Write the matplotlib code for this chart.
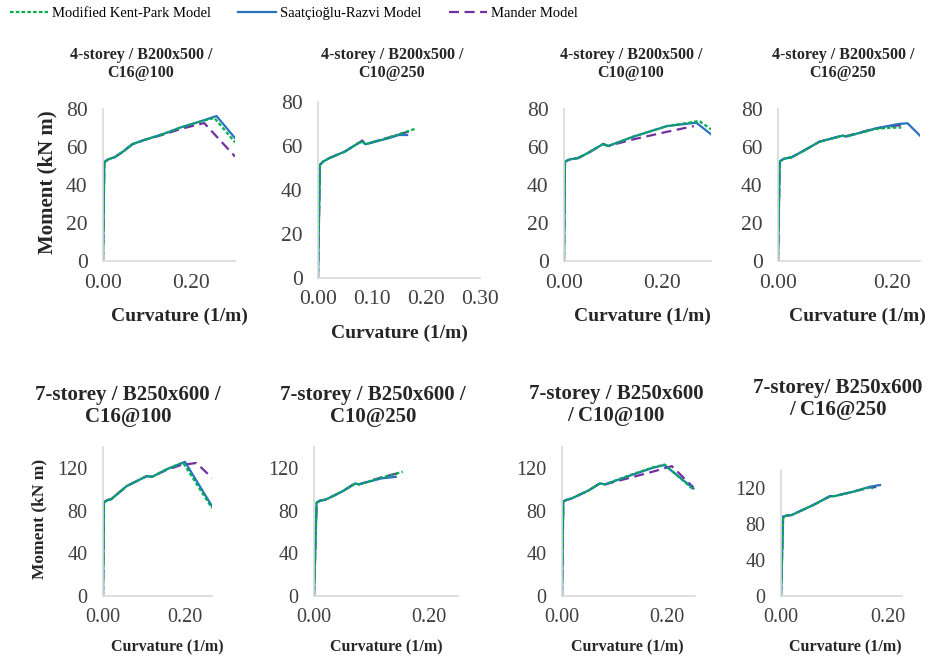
import matplotlib.pyplot as plt

plt.rcParams['font.family'] = ['Liberation Serif', 'DejaVu Serif']

# panel titles
titles = ['4-storey / B200x500 /\nC16@100', '4-storey / B200x500 /\nC10@250',
          '4-storey / B200x500 /\nC10@100', '4-storey / B200x500 /\nC16@250',
          '7-storey / B250x600 /\nC16@100', '7-storey / B250x600 /\nC10@250',
          '7-storey / B250x600\n/ C10@100', '7-storey/ B250x600\n/ C16@250']

# Modified Kent-Park model: curvature (1/m), moment (kN m)
kp_curv = [
    [0, 0.003, 0.012, 0.027, 0.045, 0.067, 0.095, 0.119, 0.141, 0.178, 0.215, 0.253, 0.3],
    [0, 0.0035, 0.01, 0.021, 0.05, 0.074, 0.082, 0.088, 0.13, 0.16, 0.182],
    [0, 0.002, 0.012, 0.029, 0.05, 0.08, 0.09, 0.141, 0.21, 0.276, 0.3],
    [0, 0.003, 0.01, 0.024, 0.045, 0.073, 0.114, 0.12, 0.172, 0.2, 0.217],
    [0, 0.0024, 0.01, 0.02, 0.058, 0.107, 0.12, 0.155, 0.195, 0.266],
    [0, 0.0045, 0.01, 0.021, 0.05, 0.072, 0.078, 0.117, 0.154],
    [0, 0.0025, 0.01, 0.018, 0.05, 0.072, 0.082, 0.136, 0.174, 0.195, 0.25],
    [0, 0.004, 0.01, 0.02, 0.06, 0.092, 0.1, 0.135, 0.16, 0.172],
]
kp_mom = [
    [0, 52, 53.5, 54.7, 57.5, 61.5, 63.8, 65.5, 67.2, 70.4, 73, 75.3, 62.5],
    [0, 51.4, 53, 54.5, 57.5, 61.2, 62, 60.8, 63.8, 66.2, 68],
    [0, 52.3, 53.5, 54.2, 57, 61.6, 60.5, 65.4, 71, 73.7, 69.3],
    [0, 52.3, 53.8, 54.6, 58, 62.8, 66, 65.5, 69.5, 70.2, 70.2],
    [0, 88, 90, 91, 103.3, 112.7, 112, 119, 125.5, 82.5],
    [0, 87.6, 89.5, 90.7, 98.5, 105.8, 104.9, 111.2, 116.8],
    [0, 89, 90.5, 91.6, 99, 105.8, 104.9, 114.8, 121, 123.5, 100],
    [0, 88.1, 89.3, 90, 101, 111, 111, 115.9, 120, 119.6],
]

# Saatcioglu-Razvi model
sr_curv = [
    [0, 0.003, 0.012, 0.027, 0.045, 0.067, 0.095, 0.119, 0.141, 0.178, 0.215, 0.258, 0.3],
    [0, 0.0035, 0.01, 0.021, 0.05, 0.074, 0.082, 0.088, 0.13, 0.15, 0.165],
    [0, 0.002, 0.012, 0.029, 0.05, 0.08, 0.09, 0.141, 0.21, 0.27, 0.3],
    [0, 0.003, 0.01, 0.024, 0.045, 0.073, 0.114, 0.12, 0.172, 0.212, 0.228, 0.25],
    [0, 0.0024, 0.01, 0.02, 0.058, 0.107, 0.12, 0.155, 0.2, 0.266],
    [0, 0.0045, 0.01, 0.021, 0.05, 0.072, 0.078, 0.117, 0.142],
    [0, 0.0025, 0.01, 0.018, 0.05, 0.072, 0.082, 0.136, 0.174, 0.195, 0.25],
    [0, 0.004, 0.01, 0.02, 0.06, 0.092, 0.1, 0.135, 0.166, 0.185],
]
sr_mom = [
    [0, 52, 53.5, 54.7, 57.5, 61.5, 63.8, 65.5, 67.2, 70.4, 73, 76.3, 64.7],
    [0, 51.4, 53, 54.5, 57.5, 61.2, 62, 60.8, 63.5, 65, 65],
    [0, 52.3, 53.5, 54.2, 57, 61.6, 60.5, 65.4, 71, 72.8, 66.7],
    [0, 52.3, 53.8, 54.6, 58, 62.8, 66, 65.5, 69.8, 72.1, 72.5, 66],
    [0, 88, 90, 91, 103.3, 112.7, 112, 119, 126, 84.4],
    [0, 87.6, 89.5, 90.7, 98.5, 105.8, 104.9, 110.5, 112],
    [0, 89, 90.5, 91.6, 99, 105.8, 104.9, 114.3, 120.6, 123.1, 101],
    [0, 88.1, 89.3, 90, 101, 111, 111, 115.9, 121.4, 123.3],
]

# Mander model
md_curv = [
    [0, 0.003, 0.012, 0.027, 0.045, 0.067, 0.095, 0.119, 0.141, 0.178, 0.23, 0.3],
    [0, 0.0035, 0.01, 0.021, 0.05, 0.074, 0.082, 0.088, 0.13, 0.16, 0.172],
    [0, 0.002, 0.012, 0.029, 0.05, 0.08, 0.09, 0.141, 0.21, 0.265],
    [0, 0.003, 0.01, 0.024, 0.045, 0.073, 0.114, 0.12, 0.172, 0.21, 0.22],
    [0, 0.0024, 0.01, 0.02, 0.058, 0.107, 0.12, 0.155, 0.19, 0.228, 0.266],
    [0, 0.0045, 0.01, 0.021, 0.05, 0.072, 0.078, 0.117, 0.151],
    [0, 0.0025, 0.01, 0.018, 0.05, 0.072, 0.082, 0.136, 0.174, 0.209, 0.25],
    [0, 0.004, 0.01, 0.02, 0.06, 0.092, 0.1, 0.135, 0.166, 0.178],
]
md_mom = [
    [0, 52, 53.5, 54.7, 57.5, 61.5, 63.8, 65.3, 66.8, 69.6, 72.6, 55],
    [0, 51.4, 53, 54.5, 57.5, 61.2, 62.5, 60.8, 63.8, 66, 66.8],
    [0, 52.3, 53.5, 54.2, 57, 61.6, 60.5, 64, 68, 71],
    [0, 52.3, 53.8, 54.6, 58, 62.8, 66, 65.7, 69.8, 71.3, 71.5],
    [0, 88, 90, 91, 103.3, 112.7, 112, 118.5, 123, 125, 111],
    [0, 87.6, 89.5, 90.7, 98.5, 106.2, 104.9, 111.5, 116],
    [0, 89, 90.5, 91.6, 99, 105.8, 104.9, 112, 117, 122, 102],
    [0, 88.1, 89.3, 90, 101, 111, 111, 116, 120.5, 121],
]

x_max = [0.3, 0.3, 0.3, 0.25, 0.266, 0.25, 0.253, 0.226]
x_ticks = [[0, 0.2], [0, 0.1, 0.2, 0.3], [0, 0.2], [0, 0.2],
           [0, 0.2], [0, 0.2], [0, 0.2], [0, 0.2]]
y_ticks_top = [0, 20, 40, 60, 80]
y_ticks_bot = [0, 40, 80, 120]

# layout in pixels: (left, right, top, bottom) of each plot area
W, H = 930, 658
boxes = [(103, 235, 109, 261), (318, 480, 102, 278), (564, 711, 109, 261), (778, 920, 109, 261),
         (103, 212, 447, 596), (314, 458, 447, 596), (562, 695, 447, 596), (781, 902, 470, 596)]
title_pos = [(141, 64), (392, 64), (631, 64), (843, 64),
             (128, 406), (373, 406), (616, 405), (838, 399)]
xlabel_pos = [(179, 316), (399, 333), (642, 316), (857, 316),
              (167, 647), (386, 647), (627, 647), (845, 647)]

green, blue, purple = '#00B050', '#2872C0', '#7030A0'
tick_col = '#404040'

fig = plt.figure(figsize=(9.3, 6.58), dpi=100)

for i in range(8):
    l, r, t, b = boxes[i]
    ax = fig.add_axes([l / W, 1 - b / H, (r - l) / W, (b - t) / H])
    top = i < 4
    ax.plot(md_curv[i], md_mom[i], color=purple, lw=1.6, dashes=(4.5, 2.5), label='Mander Model')
    ax.plot(sr_curv[i], sr_mom[i], color=blue, lw=1.6, label='Saatçioğlu-Razvi Model')
    ax.plot(kp_curv[i], kp_mom[i], color=green, lw=1.6, dashes=(1.6, 1.0), label='Modified Kent-Park Model')
    ax.set_xlim(0, x_max[i])
    ax.set_xticks(x_ticks[i])
    ax.xaxis.set_major_formatter(plt.FormatStrFormatter('%.2f'))
    if top:
        ax.set_ylim(0, 80)
        ax.set_yticks(y_ticks_top)
        fs = 15.5
    else:
        ax.set_ylim(0, 140)
        ax.set_yticks(y_ticks_bot)
        fs = 14.5
    for s in ['top', 'right']:
        ax.spines[s].set_visible(False)
    for s in ['left', 'bottom']:
        ax.spines[s].set_color('#D9D9D9')
        ax.spines[s].set_linewidth(1.2)
    ax.tick_params(length=0, labelsize=fs, colors=tick_col, pad=9)
    ax.tick_params(axis='y', pad=11)

    tx, ty = title_pos[i]
    fig.text(tx / W, 1 - ty / H, titles[i], ha='center', va='center',
             fontsize=11.5 if top else 15, fontweight='bold', color='#262626', linespacing=1.15)
    lx, ly = xlabel_pos[i]
    fig.text(lx / W, 1 - ly / H, 'Curvature (1/m)', ha='center', va='center',
             fontsize=14 if top else 11.5, fontweight='bold', color='#262626')
    if i == 0:
        handles, labels = ax.get_legend_handles_labels()

fig.text(47 / W, 1 - 182 / H, 'Moment (kN m)', rotation=90, ha='center', va='center',
         fontsize=15, fontweight='bold', color='#262626')
fig.text(39 / W, 1 - 519 / H, 'Moment (kN m)', rotation=90, ha='center', va='center',
         fontsize=12.5, fontweight='bold', color='#262626')

order = [2, 1, 0]
fig.legend([handles[k] for k in order], [labels[k] for k in order],
           loc='upper left', bbox_to_anchor=(0.0, 1.005), ncol=3, frameon=False,
           fontsize=10.5, handlelength=2.6, handletextpad=0.25, columnspacing=1.9,
           borderaxespad=0.3)

plt.savefig('out.png', dpi=100)
